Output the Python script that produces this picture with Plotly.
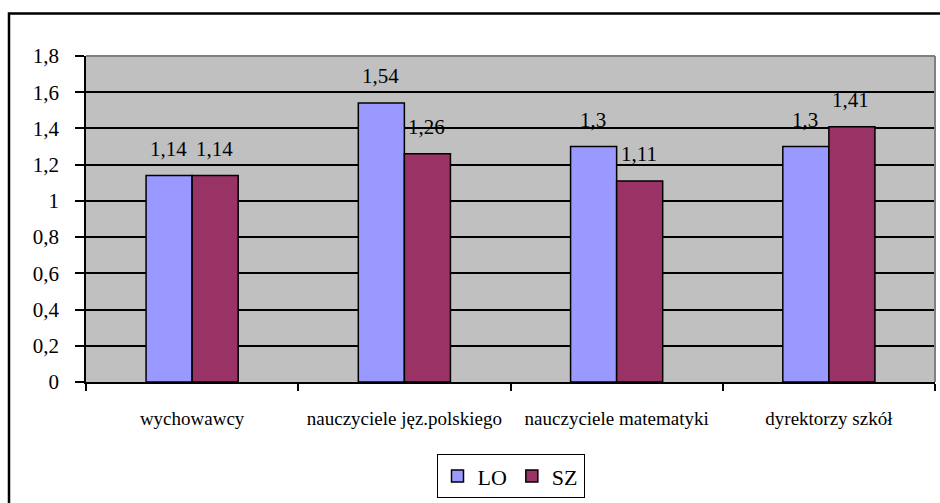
import plotly.graph_objects as go

categories = ["wychowawcy", "nauczyciele jęz.polskiego", "nauczyciele matematyki", "dyrektorzy szkół"]
lo_values = [1.14, 1.54, 1.3, 1.3]
sz_values = [1.14, 1.26, 1.11, 1.41]
y_ticks = [0, 0.2, 0.4, 0.6, 0.8, 1, 1.2, 1.4, 1.6, 1.8]
y_tick_labels = ["0", "0,2", "0,4", "0,6", "0,8", "1", "1,2", "1,4", "1,6", "1,8"]

FONT = "'Liberation Serif'"

fig = go.Figure()
fig.add_trace(go.Bar(name="LO", x=categories, y=lo_values,
                     marker=dict(color="#9999FF", line=dict(color="black", width=1.5))))
fig.add_trace(go.Bar(name="SZ", x=categories, y=sz_values,
                     marker=dict(color="#993366", line=dict(color="black", width=1.5))))

def fmt(v):
    return ("%g" % v).replace(".", ",")

annotations = []
for cat, v in zip(categories, lo_values):
    annotations.append(dict(x=cat, y=v, xref="x", yref="y", text=fmt(v), showarrow=False,
                            xshift=-24, yshift=27, yanchor="middle", xanchor="center",
                            font=dict(family=FONT, size=21, color="black")))
for cat, v in zip(categories, sz_values):
    annotations.append(dict(x=cat, y=v, xref="x", yref="y", text=fmt(v), showarrow=False,
                            xshift=22, yshift=27, yanchor="middle", xanchor="center",
                            font=dict(family=FONT, size=21, color="black")))

shapes = [
    dict(type="rect", xref="paper", yref="paper", x0=-0.0907, x1=1.05, y0=-0.45, y1=1.1307,
         line=dict(color="black", width=2.5), fillcolor="rgba(0,0,0,0)", layer="above"),
    dict(type="line", xref="paper", yref="paper", x0=0, x1=1, y0=1, y1=1,
         line=dict(color="#808080", width=2), layer="above"),
    dict(type="line", xref="paper", yref="paper", x0=1, x1=1, y0=0, y1=1,
         line=dict(color="#808080", width=2), layer="above"),
]

fig.update_layout(
    width=940, height=503,
    margin=dict(l=86, r=5, t=56, b=118),
    paper_bgcolor="white",
    plot_bgcolor="#C0C0C0",
    barmode="group",
    bargap=0.566,
    bargroupgap=0,
    separators=", ",
    font=dict(family=FONT, color="black"),
    showlegend=True,
    legend=dict(orientation="h", x=0.5, xanchor="center", y=-0.289, yanchor="middle",
                bordercolor="black", borderwidth=1, bgcolor="white",
                font=dict(family=FONT, size=22, color="black"),
                itemwidth=30, tracegroupgap=0),
    annotations=annotations,
    shapes=shapes,
)

fig.update_yaxes(range=[0, 1.8], tickvals=y_ticks, ticktext=y_tick_labels,
                 showgrid=True, gridcolor="black", gridwidth=1.5,
                 showline=True, linecolor="black", linewidth=1.5,
                 ticks="outside", ticklen=9, tickcolor="black", tickwidth=1.5,
                 ticklabelstandoff=12,
                 tickfont=dict(family=FONT, size=21, color="black"),
                 zeroline=False)
fig.update_xaxes(showline=True, linecolor="black", linewidth=1.5,
                 ticks="outside", ticklen=7, tickcolor="black", tickwidth=1.5,
                 tickson="boundaries", ticklabelstandoff=18,
                 tickfont=dict(family=FONT, size=19, color="black"),
                 showgrid=False)

fig.write_html("out.html")
